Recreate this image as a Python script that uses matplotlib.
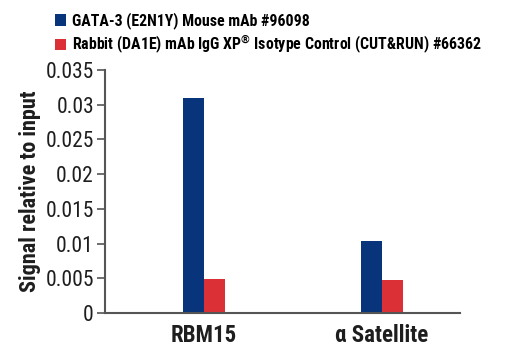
import numpy as np
import matplotlib
matplotlib.use("Agg")
import matplotlib.pyplot as plt
from matplotlib.patches import Patch

categories = ["RBM15", "α Satellite"]
series_names = [
    "GATA-3 (E2N1Y) Mouse mAb #96098",
    "Rabbit (DA1E) mAb IgG XP$^{\\mathrm{®}}$ Isotype Control (CUT&RUN) #66362",
]
gata3 = [0.0309, 0.01037]
isotype = [0.00485, 0.00475]
y_ticks = [0, 0.005, 0.01, 0.015, 0.02, 0.025, 0.03, 0.035]
y_tick_labels = ["0", "0.005", "0.01", "0.015", "0.02", "0.025", "0.03", "0.035"]

BLUE = "#07347a"
RED = "#db3036"
AXIS = "#555555"
TEXT = "#1e1e1e"

plt.rcParams["font.family"] = ["Liberation Sans Narrow", "Roboto Condensed",
                               "Liberation Sans", "DejaVu Sans"]
plt.rcParams["mathtext.fontset"] = "custom"
plt.rcParams["mathtext.rm"] = "Roboto Condensed:bold"

fig = plt.figure(figsize=(5.2, 3.5), dpi=100)
ax = fig.add_axes([105 / 520, 1 - 313 / 350, 355 / 520, 243 / 350])

x = np.arange(len(categories))
width = 0.118
ax.bar(x - width / 2, gata3, width, color=BLUE, edgecolor="none")
ax.bar(x + width / 2, isotype, width, color=RED, edgecolor="none")

ax.set_xlim(-0.556, 1.438)
ax.set_ylim(0, 0.035)
ax.set_yticks(y_ticks)
ax.set_yticklabels(y_tick_labels, fontsize=15.5, color=TEXT)
ax.set_xticks(x)
ax.set_xticklabels(categories, fontsize=16.5, fontweight="bold", color=TEXT)
ax.tick_params(axis="x", length=0, pad=8)
ax.tick_params(axis="y", length=6, width=1.2, color=AXIS, pad=2)

for side in ["top", "right"]:
    ax.spines[side].set_visible(False)
for side in ["left", "bottom"]:
    ax.spines[side].set_color(AXIS)
    ax.spines[side].set_linewidth(1.5)

ax.set_ylabel("Signal relative to input", fontsize=16, fontweight="bold",
              color=TEXT, labelpad=3)

handles = [Patch(facecolor=BLUE), Patch(facecolor=RED)]
fig.legend(handles, series_names, loc="upper left",
           bbox_to_anchor=(49 / 520, 1 - 6 / 350), frameon=False,
           handlelength=0.7, handleheight=0.7,
           handletextpad=0.35, labelspacing=0.3, borderaxespad=0,
           prop={"weight": "bold", "size": 11.4})

fig.savefig("out.png", dpi=100)
